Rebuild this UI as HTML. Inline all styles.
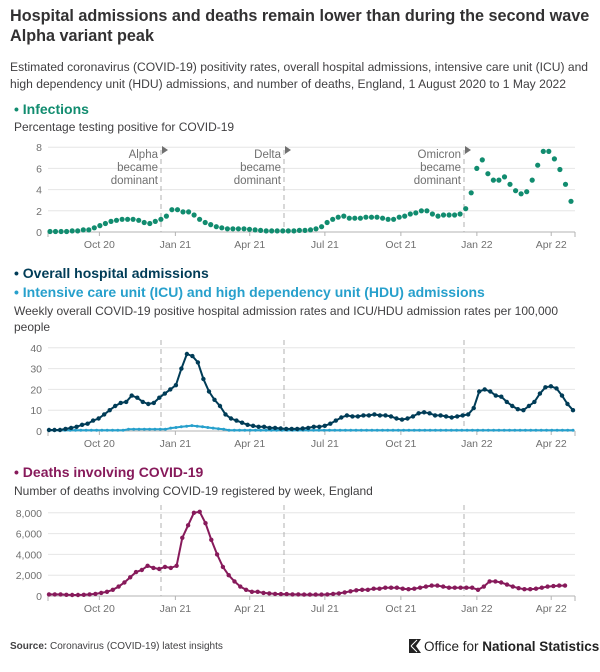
<!DOCTYPE html>
<html><head><meta charset="utf-8"><style>
body{margin:0;background:#fff;}
svg{display:block;font-family:"Liberation Sans",sans-serif;}
</style></head><body>
<svg id="s" width="600" height="672" viewBox="0 0 600 672" xmlns="http://www.w3.org/2000/svg">
<text x="10" y="21" font-size="16.2" font-weight="bold" fill="#323132">Hospital admissions and deaths remain lower than during the second wave</text>
<text x="10" y="41" font-size="16.2" font-weight="bold" fill="#323132">Alpha variant peak</text>
<text x="10" y="71" font-size="12.1" fill="#414042">Estimated coronavirus (COVID-19) positivity rates, overall hospital admissions, intensive care unit (ICU) and</text>
<text x="10" y="88" font-size="12.1" fill="#414042">high dependency unit (HDU) admissions, and number of deaths, England, 1 August 2020 to 1 May 2022</text>
<text x="14" y="114" font-size="14" font-weight="bold" fill="#118c6f">• Infections</text>
<text x="14" y="131" font-size="12" fill="#414042">Percentage testing positive for COVID-19</text>
<text x="14" y="278" font-size="14" font-weight="bold" fill="#003c57">• Overall hospital admissions</text>
<text x="14" y="297" font-size="14" font-weight="bold" fill="#27a0cc">• Intensive care unit (ICU) and high dependency unit (HDU) admissions</text>
<text x="14" y="315" font-size="12" fill="#414042">Weekly overall COVID-19 positive hospital admission rates and ICU/HDU admission rates per 100,000</text>
<text x="14" y="331" font-size="12" fill="#414042">people</text>
<text x="14" y="477" font-size="14" font-weight="bold" fill="#871a5b">• Deaths involving COVID-19</text>
<text x="14" y="495" font-size="12" fill="#414042">Number of deaths involving COVID-19 registered by week, England</text>
<text x="10" y="649" font-size="10" fill="#414042"><tspan font-weight="bold">Source:</tspan> Coronavirus (COVID-19) latest insights</text>
<path d="M409 639 h12 l-5 7 l5 7 h-12 z" fill="#222"/>
<path d="M411 646 l6 -6 M411 646 l6 6" stroke="#fff" stroke-width="1"/>
<text x="424" y="651" font-size="13.5" fill="#222">Office for <tspan font-weight="bold">National Statistics</tspan></text>
<g id="g"></g>
</svg>
<script>
var g=document.getElementById('g'),h='';
function X(d){return 49+d*0.826;}
var labs=[['Oct 20',61],['Jan 21',153],['Apr 21',243],['Jul 21',334],['Oct 21',426],['Jan 22',518],['Apr 22',608]];
function axes(y0,step,ticks,ly,top){
 for(var i=0;i<ticks.length;i++){var y=y0-i*step;
  h+='<line x1="48" x2="575" y1="'+y+'" y2="'+y+'" stroke="#e6e6e6"/>';
  h+='<text x="42" y="'+(y+4)+'" font-size="10.5" fill="#707070" text-anchor="end">'+ticks[i]+'</text>';}
 h+='<line x1="48" x2="575" y1="'+y0+'" y2="'+y0+'" stroke="#b3b3b3"/>';
 h+='<line x1="48" x2="48" y1="'+y0+'" y2="'+(y0+5)+'" stroke="#b3b3b3"/><line x1="575" x2="575" y1="'+y0+'" y2="'+(y0+5)+'" stroke="#b3b3b3"/>';
 labs.forEach(function(l){var x=X(l[1]);h+='<line x1="'+x+'" x2="'+x+'" y1="'+y0+'" y2="'+(y0+4)+'" stroke="#b3b3b3"/><text x="'+x+'" y="'+ly+'" font-size="10.5" fill="#707070" text-anchor="middle">'+l[0]+'</text>';});
 [161,284,464].forEach(function(x){h+='<line x1="'+x+'" x2="'+x+'" y1="'+top+'" y2="'+y0+'" stroke="#b0b0b0" stroke-dasharray="5,4"/>';});
}
axes(232,21.2,['0','2','4','6','8'],248,150);
axes(431,20.8,['0','10','20','30','40'],447,340);
axes(596,20.8,['0','2,000','4,000','6,000','8,000'],612,505);
[[161,'Alpha'],[284,'Delta'],[464,'Omicron']].forEach(function(a){
 var x=a[0]-3;
 h+='<text font-size="11.5" fill="#707070" text-anchor="end"><tspan x="'+x+'" y="158">'+a[1]+'</tspan><tspan x="'+x+'" y="171">became</tspan><tspan x="'+x+'" y="184">dominant</tspan></text>';
 h+='<path d="M'+(a[0]+1)+' 146 l6 4 l-6 4z" fill="#707070"/>';
});
function ser(data,x0,x1,y0,sc,col,line,r){
 var n=data.length,pts=[];
 for(var i=0;i<n;i++){pts.push([x0+(x1-x0)*i/(n-1),y0-data[i]*sc]);}
 if(line)h+='<polyline fill="none" stroke="'+col+'" stroke-width="2" points="'+pts.map(function(p){return p[0].toFixed(1)+','+p[1].toFixed(1)}).join(' ')+'"/>';
 pts.forEach(function(p){h+='<circle cx="'+p[0].toFixed(1)+'" cy="'+p[1].toFixed(1)+'" r="'+r+'" fill="'+col+'"/>';});
}
var inf=[0.05,0.05,0.05,0.05,0.1,0.1,0.2,0.2,0.4,0.6,0.8,1.0,1.1,1.2,1.2,1.2,1.1,0.9,0.8,1.0,1.2,1.5,2.1,2.1,1.9,1.9,1.6,1.2,0.9,0.7,0.5,0.4,0.3,0.3,0.3,0.3,0.25,0.2,0.15,0.1,0.1,0.1,0.1,0.1,0.1,0.15,0.15,0.2,0.3,0.5,0.9,1.2,1.4,1.5,1.3,1.3,1.3,1.4,1.4,1.4,1.3,1.2,1.2,1.4,1.5,1.7,1.8,2.0,2.0,1.7,1.5,1.6,1.6,1.6,1.7,2.2,3.7,6.0,6.8,5.5,4.9,4.9,5.2,4.5,3.9,3.6,3.8,4.9,6.3,7.6,7.6,6.9,5.9,4.5,2.9];
ser(inf,50,571,232,10.6,'#118c6f',false,2.6);
var icu=[];for(var i=0;i<100;i++){var v=0.4;if(i>14&&i<23)v=0.8;if(i>=23&&i<34)v=2.6-Math.abs(i-27)*0.3;if(v<0.4)v=0.4;icu.push(v);}
ser(icu,49,573,431,2.08,'#27a0cc',true,1.5);
var hos=[0.5,0.5,0.5,1,1.5,2,3,3.5,5,6,8,10,12,13.5,14,17,16,14,13,13.5,16,18,20,22,30,37,36,33,25,19,15,12,8,6,5,4,3,2.5,2,2,1.5,1.5,1.2,1,1,1,1.2,1.5,2,2,2.5,3.5,5,6.5,7.5,7,7,7.5,7.5,8,7.5,7.5,7,6,5.5,6,7,8.5,9,8.5,7.5,7.5,7,6.5,7,7.5,8,11,19,20,19,17,16.5,14,12,10.5,10,12,14,18,21,21.5,20.5,17,13,10];
ser(hos,49,573,431,2.08,'#003c57',true,2.2);
var dth=[150,150,150,120,100,100,120,150,200,300,400,600,900,1300,1800,2300,2500,2900,2700,2600,2800,2700,2900,5600,6800,8000,8100,7000,5400,4000,2800,2000,1400,900,600,400,400,300,250,200,180,180,150,150,130,130,130,130,150,200,250,350,450,550,600,600,700,700,800,800,800,700,650,700,800,900,1000,1000,900,800,800,800,800,800,600,900,1400,1400,1300,1100,900,750,650,650,700,800,900,950,1000,1000];
ser(dth,49,565,596,0.0104,'#871a5b',true,2.2);
g.innerHTML=h;
</script>
</body></html>
